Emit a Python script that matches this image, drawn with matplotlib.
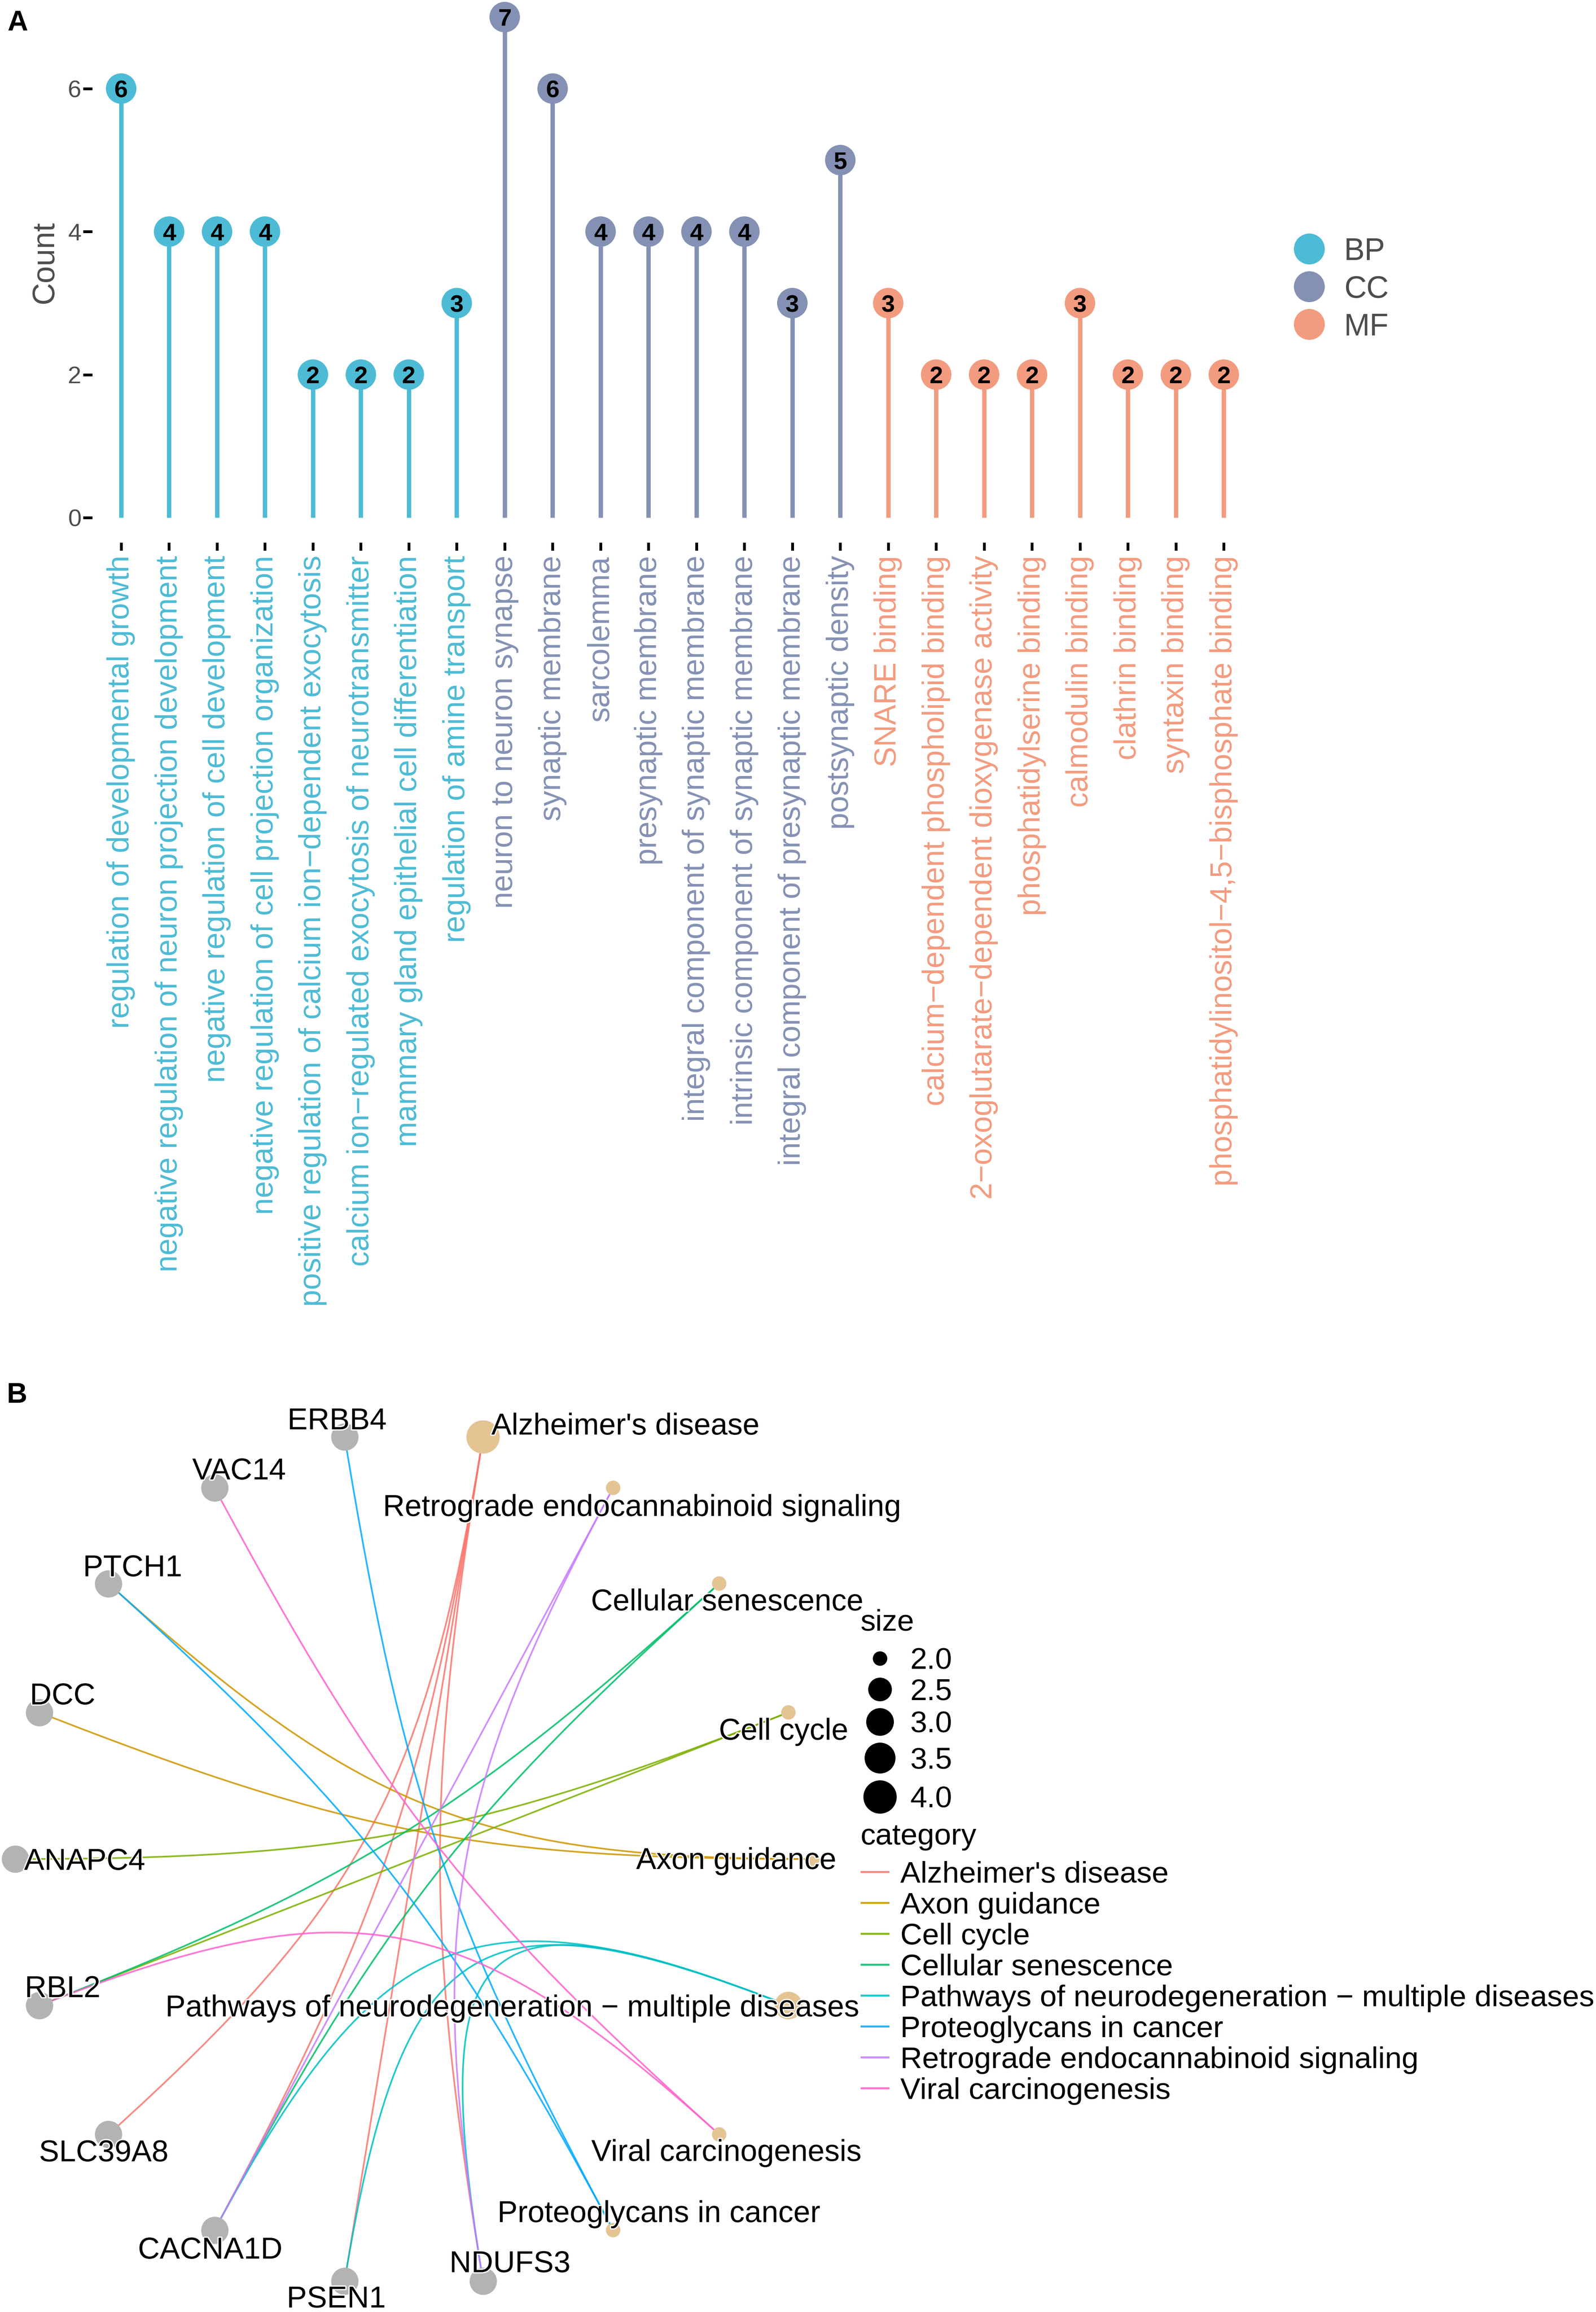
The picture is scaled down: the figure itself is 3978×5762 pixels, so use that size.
import numpy as np
import matplotlib
matplotlib.use("Agg")
import matplotlib.pyplot as plt
from matplotlib.path import Path
from matplotlib.patches import PathPatch
import matplotlib.patheffects as pe

plt.rcParams["font.family"] = ["Liberation Sans", "DejaVu Sans"]

# ---------------- panel A data: GO terms per ontology ----------------
BP_TERMS = [
    "regulation of developmental growth",
    "negative regulation of neuron projection development",
    "negative regulation of cell development",
    "negative regulation of cell projection organization",
    "positive regulation of calcium ion\u2212dependent exocytosis",
    "calcium ion\u2212regulated exocytosis of neurotransmitter",
    "mammary gland epithelial cell differentiation",
    "regulation of amine transport",
]
BP_COUNTS = [6, 4, 4, 4, 2, 2, 2, 3]

CC_TERMS = [
    "neuron to neuron synapse",
    "synaptic membrane",
    "sarcolemma",
    "presynaptic membrane",
    "integral component of synaptic membrane",
    "intrinsic component of synaptic membrane",
    "integral component of presynaptic membrane",
    "postsynaptic density",
]
CC_COUNTS = [7, 6, 4, 4, 4, 4, 3, 5]

MF_TERMS = [
    "SNARE binding",
    "calcium\u2212dependent phospholipid binding",
    "2\u2212oxoglutarate\u2212dependent dioxygenase activity",
    "phosphatidylserine binding",
    "calmodulin binding",
    "clathrin binding",
    "syntaxin binding",
    "phosphatidylinositol\u22124,5\u2212bisphosphate binding",
]
MF_COUNTS = [3, 2, 2, 2, 3, 2, 2, 2]

ONTOLOGIES = ["BP", "CC", "MF"]

# ---------------- panel B data: KEGG gene-concept network ----------------
# node order around the circle (counter-clockwise, starting at 3 o'clock)
NODE_ORDER = [
    "Axon guidance", "Cell cycle", "Cellular senescence",
    "Retrograde endocannabinoid signaling", "Alzheimer's disease",
    "ERBB4", "VAC14", "PTCH1", "DCC", "ANAPC4", "RBL2", "SLC39A8",
    "CACNA1D", "PSEN1", "NDUFS3",
    "Proteoglycans in cancer", "Viral carcinogenesis",
    "Pathways of neurodegeneration \u2212 multiple diseases",
]
GENES = ["ERBB4", "VAC14", "PTCH1", "DCC", "ANAPC4", "RBL2", "SLC39A8",
         "CACNA1D", "PSEN1", "NDUFS3"]
CATEGORIES = [
    "Alzheimer's disease", "Axon guidance", "Cell cycle", "Cellular senescence",
    "Pathways of neurodegeneration \u2212 multiple diseases",
    "Proteoglycans in cancer", "Retrograde endocannabinoid signaling",
    "Viral carcinogenesis",
]
EDGES = [
    ("Alzheimer's disease", "SLC39A8"), ("Alzheimer's disease", "CACNA1D"),
    ("Alzheimer's disease", "PSEN1"), ("Alzheimer's disease", "NDUFS3"),
    ("Axon guidance", "DCC"), ("Axon guidance", "PTCH1"),
    ("Cell cycle", "ANAPC4"), ("Cell cycle", "RBL2"),
    ("Cellular senescence", "RBL2"), ("Cellular senescence", "CACNA1D"),
    ("Pathways of neurodegeneration \u2212 multiple diseases", "CACNA1D"),
    ("Pathways of neurodegeneration \u2212 multiple diseases", "PSEN1"),
    ("Pathways of neurodegeneration \u2212 multiple diseases", "NDUFS3"),
    ("Proteoglycans in cancer", "ERBB4"), ("Proteoglycans in cancer", "PTCH1"),
    ("Retrograde endocannabinoid signaling", "CACNA1D"),
    ("Retrograde endocannabinoid signaling", "NDUFS3"),
    ("Viral carcinogenesis", "VAC14"), ("Viral carcinogenesis", "RBL2"),
]
SIZE_BREAKS = [2.0, 2.5, 3.0, 3.5, 4.0]

# ---------------- styles / layout ----------------
W, H, DPI = 3978, 5762, 300
PT = 72.0 / DPI  # points per pixel
ONT_COLORS = {"BP": "#4DBBD5", "CC": "#8491B4", "MF": "#F39B7F"}
CAT_COLORS = ["#F8766D", "#CD9600", "#7CAE00", "#00BE67",
              "#00BFC4", "#00A9FF", "#C77CFF", "#FF61CC"]
GREY30 = "#4D4D4D"
SIZE_KEY_PX = [36, 59, 69, 77, 83]   # point diameter for the size scale
GENE_NODE_PX = 68
ARC_STRENGTH = 0.83

# label offsets (px, right / down) of each network label's centre from its node
LABEL_OFFSETS = {
    "ERBB4": (-19, -46), "VAC14": (61, -48), "PTCH1": (60, -45),
    "DCC": (58, -47), "ANAPC4": (173, 0), "RBL2": (58, -48),
    "SLC39A8": (-12, 40), "CACNA1D": (-11, 44), "PSEN1": (-21, 39),
    "NDUFS3": (67, -49), "Axon guidance": (-190, -2),
    "Pathways of neurodegeneration \u2212 multiple diseases": (-688, 0),
    "Viral carcinogenesis": (18, 39), "Proteoglycans in cancer": (114, -47),
    "Alzheimer's disease": (355, -33),
    "Retrograde endocannabinoid signaling": (72, 43),
    "Cellular senescence": (20, 40), "Cell cycle": (-12, 41),
}


def px_axes(fig, x0, y0, x1, y1):
    return fig.add_axes([x0 / W, 1 - y1 / H, (x1 - x0) / W, (y1 - y0) / H])


fig = plt.figure(figsize=(W / DPI, H / DPI), dpi=DPI)

# overlay in pixel coordinates for panel letters and legends
ov = fig.add_axes([0, 0, 1, 1], zorder=10)
ov.set_xlim(0, W)
ov.set_ylim(H, 0)
ov.axis("off")
ov.patch.set_alpha(0)

# ================= Panel A: lollipop =================
terms = BP_TERMS + CC_TERMS + MF_TERMS
counts = BP_COUNTS + CC_COUNTS + MF_COUNTS
groups = (["BP"] * len(BP_TERMS) + ["CC"] * len(CC_TERMS) + ["MF"] * len(MF_TERMS))
cols = [ONT_COLORS[g] for g in groups]
xpos = np.arange(len(terms))

fs_num = 14.5
axA = px_axes(fig, 230, 0, 3122, 1352)
axA.vlines(xpos, 0, counts, colors=cols, linewidth=2.6, zorder=2)
axA.scatter(xpos, counts, s=(76 * PT) ** 2, c=cols, linewidths=0, zorder=3, clip_on=False)
for xi, c in zip(xpos, counts):
    axA.annotate(str(c), (xi, c), xytext=(0, -0.358 * fs_num), textcoords="offset points",
                 ha="center", va="baseline", fontsize=fs_num, fontweight="bold",
                 color="black", zorder=4, annotation_clip=False)
axA.set_xlim(-0.6025, 23.6)
axA.set_ylim(-0.348, 7.239)
axA.set_yticks([0, 2, 4, 6])
axA.set_xticks(xpos)
axA.set_xticklabels(terms, rotation=90, ha="center", va="top")
for lab, c in zip(axA.get_xticklabels(), cols):
    lab.set_color(c)
axA.tick_params(axis="x", length=20 * PT, width=7 * PT, color="black",
                labelsize=18.2, pad=3)
axA.tick_params(axis="y", length=23 * PT, width=7 * PT, color="black",
                labelsize=14.5, labelcolor=GREY30, pad=1)
for sp in axA.spines.values():
    sp.set_visible(False)
axA.patch.set_alpha(0)

ov.text(112, 654, "Count", rotation=90, ha="center", va="center",
        fontsize=18.5, color=GREY30)
ov.text(18, 76, "A", ha="left", va="baseline", fontsize=17, fontweight="bold")

# legend A
for i, g in enumerate(ONTOLOGIES):
    yy = 620 + i * 94
    ov.scatter([3263], [yy], s=(77 * PT) ** 2, c=ONT_COLORS[g], linewidths=0)
    ov.annotate(g, (3350, yy), xytext=(0, -0.358 * 18.5), textcoords="offset points",
                ha="left", va="baseline", fontsize=18.5, color=GREY30)

# ================= Panel B: cnetplot =================
cx_px, cy_px, rx_px, ry_px = 1031.5, 4633, 993.5, 1068
axB = px_axes(fig, 0, 3440, W, H)
axB.set_xlim(-cx_px / rx_px, (W - cx_px) / rx_px)
axB.set_ylim((cy_px - H) / ry_px, (cy_px - 3440) / ry_px)
axB.axis("off")

angles = np.deg2rad(20 * np.arange(len(NODE_ORDER)))
pos = {n: np.array([np.cos(a), np.sin(a)]) for n, a in zip(NODE_ORDER, angles)}
cat_size = {c: sum(1 for e in EDGES if e[0] == c) for c in CATEGORIES}

for cat, gene in EDGES:
    p0, p3 = pos[gene], pos[cat]
    verts = [p0, p0 * (1 - ARC_STRENGTH), p3 * (1 - ARC_STRENGTH), p3]
    path = Path(verts, [Path.MOVETO, Path.CURVE4, Path.CURVE4, Path.CURVE4])
    axB.add_patch(PathPatch(path, facecolor="none", edgecolor=CAT_COLORS[CATEGORIES.index(cat)],
                            linewidth=1.0, alpha=0.85, zorder=1))

gx = [pos[g][0] for g in GENES]
gy = [pos[g][1] for g in GENES]
axB.scatter(gx, gy, s=(GENE_NODE_PX * PT) ** 2, c="#B3B3B3", linewidths=0, zorder=2, clip_on=False)
cxs = [pos[c][0] for c in CATEGORIES]
cys = [pos[c][1] for c in CATEGORIES]
csz = [(np.interp(cat_size[c], SIZE_BREAKS, SIZE_KEY_PX) * PT) ** 2 for c in CATEGORIES]
axB.scatter(cxs, cys, s=csz, c="#E5C494", linewidths=0, zorder=2, clip_on=False)

halo = [pe.withStroke(linewidth=1.5, foreground="white")]
fsB = 18.1
for name in NODE_ORDER:
    dx, dy = LABEL_OFFSETS[name]
    t = axB.annotate(name, pos[name], xytext=(dx * PT, -dy * PT - 0.358 * fsB),
                     textcoords="offset points", ha="center", va="baseline",
                     fontsize=fsB, color="black", zorder=3, annotation_clip=False)
    t.set_path_effects(halo)

ov.text(16, 3496, "B", ha="left", va="baseline", fontsize=17, fontweight="bold")

# legend B: size
ov.text(2145, 4064, "size", ha="left", va="baseline", fontsize=fsB)
yy = 4094
for br, d in zip(SIZE_BREAKS, SIZE_KEY_PX):
    rh = max(d, 60) + 17
    yc = yy + rh / 2
    ov.scatter([2193], [yc], s=(d * PT) ** 2, c="black", linewidths=0)
    ov.annotate(f"{br:.1f}", (2268, yc), xytext=(0, -0.358 * fsB), textcoords="offset points",
                ha="left", va="baseline", fontsize=fsB)
    yy += rh

# legend B: category
ov.text(2145, 4597, "category", ha="left", va="baseline", fontsize=fsB)
for i, (cat, col) in enumerate(zip(CATEGORIES, CAT_COLORS)):
    yc = 4665 + i * 77
    ov.plot([2147, 2214], [yc, yc], color=col, linewidth=1.2, alpha=0.85)
    ov.annotate(cat, (2244, yc), xytext=(0, -0.358 * fsB), textcoords="offset points",
                ha="left", va="baseline", fontsize=fsB)

fig.savefig("out.png", dpi=DPI)
